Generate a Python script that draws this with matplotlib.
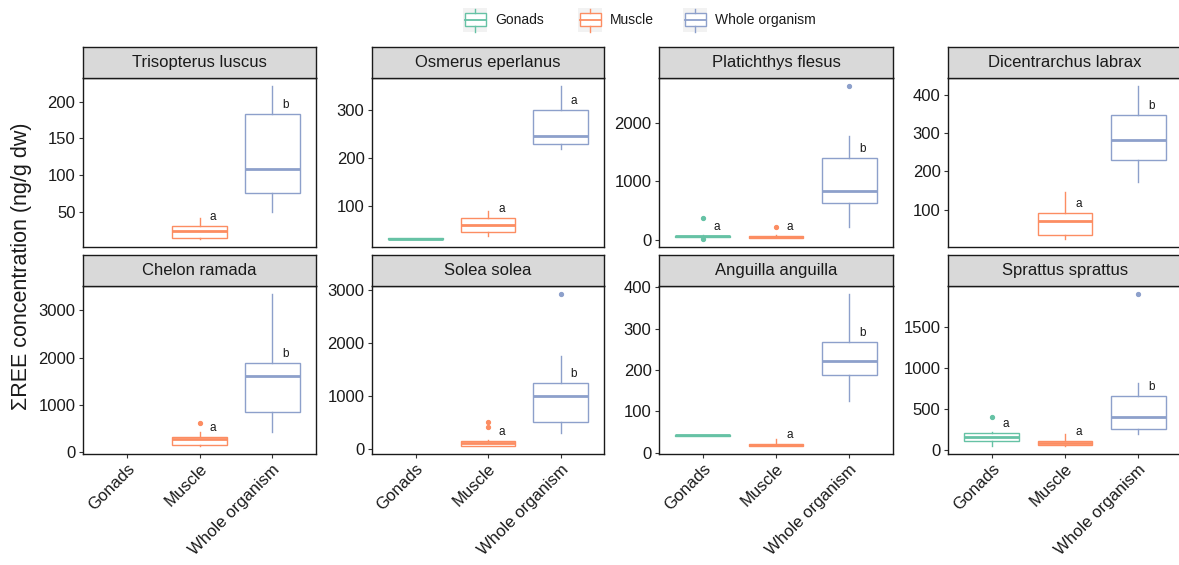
import matplotlib
matplotlib.use("Agg")
import matplotlib.pyplot as plt
from matplotlib.patches import Rectangle
from matplotlib.lines import Line2D

plt.rcParams['font.family'] = ['Liberation Sans', 'DejaVu Sans']

# ---------------- data ----------------
species = ["Trisopterus luscus", "Osmerus eperlanus", "Platichthys flesus",
           "Dicentrarchus labrax", "Chelon ramada", "Solea solea",
           "Anguilla anguilla", "Sprattus sprattus"]
tissues = ["Gonads", "Muscle", "Whole organism"]
tissue_colors = ["#66C2A5", "#FC8D62", "#8DA0CB"]

# (lower whisker, Q1, median, Q3, upper whisker) per species
gonads_stats = [None, (30, 30.5, 31, 32, 33), (40, 48, 55, 65, 75), None,
                None, None, (40.5, 41, 41.5, 42, 42.5), (40, 110, 150, 203, 215)]
gonads_fliers = [[], [], [379, 5], [], [], [], [], [398]]
gonads_letters = ["", "", "a", "", "", "", "", "a"]

muscle_stats = [(12.5, 14, 24, 31, 41), (36, 45, 59, 74, 89), (20, 35, 45, 55, 75),
                (22, 34, 69, 91, 147), (125, 154, 281, 329, 435), (56, 65, 120, 155, 185),
                (15, 16.5, 18.5, 21, 32), (50, 52, 80, 105, 195)]
muscle_fliers = [[], [], [217], [], [612], [518, 424], [], []]
muscle_letters = ["a", "a", "a", "a", "a", "a", "a", "a"]

whole_stats = [(50, 76, 109, 184, 222), (219, 230, 247, 300, 352),
               (217, 631, 833, 1397, 1781), (172, 229, 281, 347, 424),
               (435, 850, 1616, 1878, 3354), (300, 518, 1006, 1238, 1750),
               (125, 187, 222, 268, 385), (195, 256, 398, 650, 812)]
whole_fliers = [[], [], [2648], [], [], [2927], [], [1902]]
whole_letters = ["b", "a", "b", "b", "b", "b", "b", "b"]

yticks = [[50, 100, 150, 200], [100, 200, 300], [0, 1000, 2000],
          [100, 200, 300, 400], [0, 1000, 2000, 3000], [0, 1000, 2000, 3000],
          [0, 100, 200, 300, 400], [0, 500, 1000, 1500]]

all_stats = [gonads_stats, muscle_stats, whole_stats]
all_fliers = [gonads_fliers, muscle_fliers, whole_fliers]
all_letters = [gonads_letters, muscle_letters, whole_letters]

# ---------------- layout ----------------
W, H = 1179, 565
fig = plt.figure(figsize=(W / 100, H / 100), dpi=100)

col_px = [(83, 316), (372, 604), (659, 893), (948, 1182)]
row_px = [(47, 78, 247), (255, 286, 454)]


def rect(x0, x1, y0, y1):
    return [x0 / W, 1 - y1 / H, (x1 - x0) / W, (y1 - y0) / H]


for i, sp in enumerate(species):
    r, c = divmod(i, 4)
    x0, x1 = col_px[c]
    st, pt, pb = row_px[r]
    ax = fig.add_axes(rect(x0, x1, pt, pb))
    sax = fig.add_axes(rect(x0, x1, st, pt))

    for t in range(3):
        s = all_stats[t][i]
        if s is None:
            continue
        lo, q1, med, q3, hi = s
        col = tissue_colors[t]
        d = dict(whislo=lo, q1=q1, med=med, q3=q3, whishi=hi, fliers=all_fliers[t][i])
        ax.bxp([d], positions=[t + 1], widths=0.75, patch_artist=True,
               showcaps=False, manage_ticks=False,
               boxprops=dict(facecolor="white", edgecolor=col, linewidth=1.0),
               medianprops=dict(color=col, linewidth=2.0, solid_capstyle="butt"),
               whiskerprops=dict(color=col, linewidth=1.0),
               flierprops=dict(marker="o", markerfacecolor=col, markeredgecolor=col,
                               markersize=2.8, linestyle="none"))
        letter = all_letters[t][i]
        if letter:
            ax.annotate(letter, xy=(t + 1, q3), xytext=(13.5, 9),
                        textcoords="offset pixels", ha="center", va="center",
                        fontsize=8.5, color="#1A1A1A")

    ax.set_xlim(0.4, 3.6)
    ax.autoscale_view(scalex=False, scaley=True)
    ylim = ax.get_ylim()
    ax.set_yticks(yticks[i])
    ax.set_ylim(ylim)
    ax.tick_params(axis="y", direction="out", length=2.9, width=0.8,
                   color="#333333", labelsize=12, labelcolor="#1A1A1A", pad=2.5)
    if r == 0:
        ax.tick_params(axis="x", bottom=False, labelbottom=False)
    else:
        ax.set_xticks([1, 2, 3])
        ax.set_xticklabels(tissues, rotation=45, ha="right", va="top",
                           rotation_mode="anchor")
        ax.tick_params(axis="x", direction="out", length=2.9, width=0.8,
                       color="#333333", labelsize=12, labelcolor="#1A1A1A", pad=2.5)
    for sp_ in ax.spines.values():
        sp_.set_color("#1A1A1A")
        sp_.set_linewidth(1.0)

    sax.set_facecolor("#D9D9D9")
    sax.set_xticks([])
    sax.set_yticks([])
    for sp_ in sax.spines.values():
        sp_.set_color("#1A1A1A")
        sp_.set_linewidth(1.0)
    sax.text(0.5, 0.5, sp, transform=sax.transAxes, ha="center", va="center",
             fontsize=12, color="#1A1A1A")

# y label
fig.text(22 / W, 1 - 266 / H, "ΣREE concentration (ng/g dw)", rotation=90,
         ha="center", va="center", fontsize=15.5, color="#1A1A1A")

# legend (drawn on an overlay in pixel coordinates)
lax = fig.add_axes([0, 0, 1, 1], zorder=-1)
lax.set_xlim(0, W)
lax.set_ylim(H, 0)
lax.axis("off")
key_x = [463, 578, 683]
for kx, name, col in zip(key_x, tissues, tissue_colors):
    lax.add_patch(Rectangle((kx, 8), 24, 24, facecolor="#F2F2F2", edgecolor="none"))
    lax.add_patch(Rectangle((kx + 1.5, 13), 21, 13, facecolor="white",
                            edgecolor=col, linewidth=1.0))
    lax.add_line(Line2D([kx + 1.5, kx + 22.5], [19.5, 19.5], color=col, linewidth=1.3))
    lax.add_line(Line2D([kx + 12, kx + 12], [8.5, 13], color=col, linewidth=1.0))
    lax.add_line(Line2D([kx + 12, kx + 12], [26, 31.5], color=col, linewidth=1.0))
    lax.text(kx + 32, 20, name, ha="left", va="center", fontsize=10, color="#1A1A1A")

fig.savefig("out.png", dpi=100)
